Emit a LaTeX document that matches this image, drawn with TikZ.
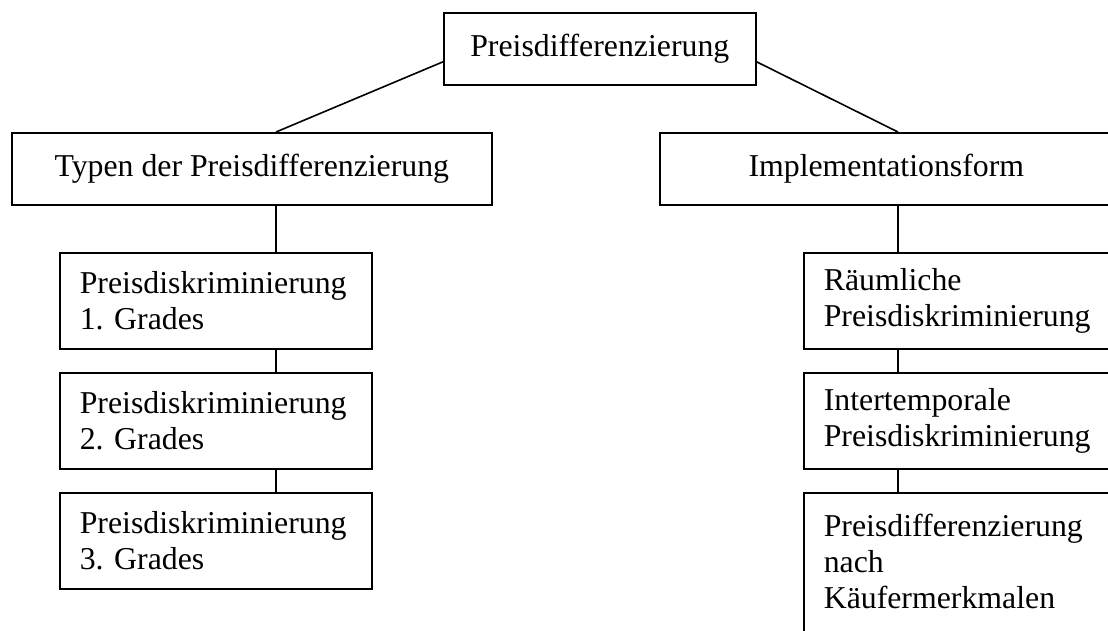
\documentclass[tikz,border=0pt]{standalone}
\usepackage{fontspec}
\setmainfont{Liberation Serif}
\usetikzlibrary{calc}
\frenchspacing
\begin{document}
\begin{tikzpicture}[x=1pt,y=-1pt,line width=1.6pt,
  every node/.style={font=\fontsize{31.8}{36}\selectfont},
  cbox/.style={draw,rectangle,anchor=north west,inner sep=0pt,align=center,minimum height=72pt},
  lbox/.style={draw,rectangle,anchor=north west,inner xsep=20pt,inner ysep=0pt,align=left,text width=272pt,minimum height=96pt},
  rbox/.style={draw,rectangle,anchor=north west,inner xsep=20pt,inner ysep=0pt,align=left,text width=300pt,minimum height=96pt}]
\useasboundingbox (0,0) rectangle (1108,630);
\clip (0,0) rectangle (1108,630);
\node[cbox,minimum width=312pt,xshift=-6pt,text width=300pt] (top) at (449,12) {Preisdifferenzierung};
\node[cbox,minimum width=480pt] (typ) at (11,132) {Typen der Preisdifferenzierung};
\node[cbox,minimum width=453pt] (impl) at (659,132) {Implementationsform};
\node[lbox] (l1) at (59,252) {Preisdiskriminierung\\1. Grades};
\node[lbox] (l2) at (59,372) {Preisdiskriminierung\\2. Grades};
\node[lbox] (l3) at (59,492) {Preisdiskriminierung\\3. Grades};
\node[rbox] (r1) at (803,252) {Räumliche\\Preisdiskriminierung};
\node[rbox] (r2) at (803,372) {Intertemporale\\Preisdiskriminierung};
\node[rbox,inner ysep=21pt,minimum height=0pt] (r3) at (803,492) {Preisdifferenzierung\\nach\\Käufermerkmalen\rule[-25pt]{0pt}{0pt}};
\coordinate (xl) at (276,0);
\coordinate (xr) at (898,0);
\draw ([yshift=-13pt]top.west) -- (typ.north -| xl);
\draw ([yshift=-13pt]top.east) -- (impl.north -| xr);
\draw (typ.south -| xl) -- (l1.north -| xl);
\draw (l1.south -| xl) -- (l2.north -| xl);
\draw (l2.south -| xl) -- (l3.north -| xl);
\draw (impl.south -| xr) -- (r1.north -| xr);
\draw (r1.south -| xr) -- (r2.north -| xr);
\draw (r2.south -| xr) -- (r3.north -| xr);
\end{tikzpicture}
\end{document}
